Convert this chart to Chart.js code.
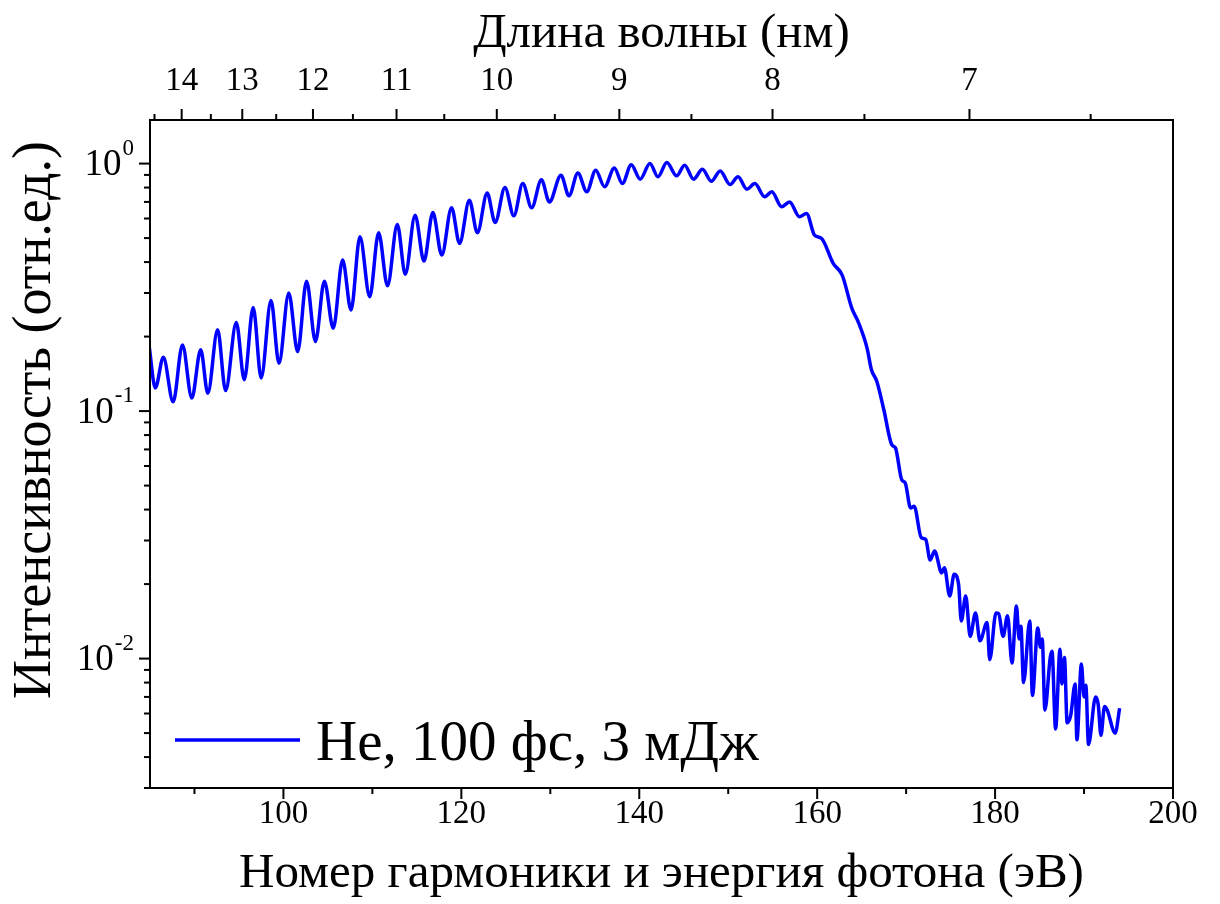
<!DOCTYPE html>
<html>
<head>
<meta charset="utf-8">
<script src="https://cdn.jsdelivr.net/npm/chart.js@4.4.0/dist/chart.umd.min.js"></script>
<style>
  html, body { margin: 0; padding: 0; background: #fff; }
  #wrap { width: 1220px; height: 904px; }
</style>
</head>
<body>
<div id="wrap"><canvas id="spectrum" width="1220" height="904"></canvas></div>
<script>
// ---------- Data ----------
const seriesLabel = 'He, 100 фс, 3 мДж';

// photon energy (eV) at peaks / troughs
const energy = [
  84.9, 85.6, 86.5, 87.6, 88.65, 89.7, 90.7, 91.5, 92.6, 93.5,
  94.7, 95.6, 96.6, 97.5, 98.6, 99.5, 100.6, 101.6, 102.6, 103.6,
  104.6, 105.6, 106.65, 107.6, 108.6, 109.7, 110.7, 111.7, 112.8, 113.7,
  114.8, 115.8, 116.8, 117.8, 118.9, 119.8, 120.9, 121.8, 122.9, 123.8,
  124.9, 125.9, 126.9, 127.9, 129.0, 129.9, 131.2, 132.1, 133.1, 134.1,
  135.1, 136.1, 137.2, 138.1, 139.1, 140.1, 141.2, 142.1, 143.1, 144.2,
  145.1, 146.1, 147.1, 148.1, 149.1, 150.2, 151.1, 152.1, 153.0, 154.1,
  154.9, 156.0, 156.9, 158.0, 158.8, 159.7, 160.5, 161.8, 162.8, 163.9,
  164.6, 165.6, 166.1, 166.7, 167.5, 168.4, 168.8, 169.5, 169.9, 170.5,
  170.9, 171.7, 172.2, 172.7, 173.2, 174.0, 174.3, 174.9, 175.4, 175.9,
  176.2, 176.7, 177.2, 177.8, 178.3, 179.1, 179.4, 180.1, 180.4, 180.9,
  181.4, 181.9, 182.4, 182.7, 182.9, 183.2, 183.9, 184.2, 184.8, 185.1,
  185.3, 185.6, 186.2, 186.4, 186.8, 187.3, 187.5, 187.8, 188.1, 188.5,
  189.0, 189.2, 189.7, 190.0, 190.2, 190.5, 191.3, 191.6, 191.9, 192.3,
  192.6, 193.5, 194.0
];

// intensity (arb. units)
const intensity = [
  0.183, 0.124, 0.165, 0.109, 0.185, 0.113, 0.177, 0.118, 0.213, 0.121,
  0.228, 0.134, 0.262, 0.136, 0.280, 0.156, 0.300, 0.174, 0.335, 0.191,
  0.335, 0.216, 0.408, 0.256, 0.506, 0.290, 0.525, 0.321, 0.568, 0.357,
  0.619, 0.404, 0.634, 0.427, 0.663, 0.476, 0.711, 0.525, 0.760, 0.578,
  0.800, 0.615, 0.830, 0.663, 0.860, 0.700, 0.897, 0.741, 0.917, 0.769,
  0.940, 0.806, 0.960, 0.830, 0.990, 0.865, 1.000, 0.884, 1.010, 0.892,
  0.985, 0.865, 0.948, 0.849, 0.934, 0.823, 0.884, 0.788, 0.830, 0.734,
  0.769, 0.669, 0.700, 0.610, 0.629, 0.514, 0.498, 0.395, 0.355, 0.260,
  0.230, 0.180, 0.147, 0.132, 0.101, 0.073, 0.071, 0.0528, 0.0512, 0.0406,
  0.0413, 0.0308, 0.0303, 0.0250, 0.0272, 0.0222, 0.0233, 0.0179, 0.0219, 0.0199,
  0.0142, 0.0179, 0.0123, 0.0153, 0.0118, 0.0140, 0.0099, 0.0153, 0.0152, 0.0123,
  0.0149, 0.0096, 0.0163, 0.0120, 0.0135, 0.0080, 0.0142, 0.0071, 0.0133, 0.0111,
  0.0120, 0.0062, 0.0101, 0.0107, 0.0052, 0.0109, 0.0079, 0.0101, 0.0055, 0.0059,
  0.0079, 0.0047, 0.0095, 0.0070, 0.0078, 0.0045, 0.0070, 0.0065, 0.0049, 0.0064,
  0.0062, 0.0050, 0.0063
];

// axes
const xMajorTicks = [100, 120, 140, 160, 180, 200];
const xMinorTicks = [90, 110, 130, 150, 170, 190];
const topMajorNm = [14, 13, 12, 11, 10, 9, 8, 7];
const topMinorNm = [14.5, 13.5, 12.5, 11.5, 10.5, 9.5, 8.5, 7.5, 6.5];
const yDecades = [1, 0.1, 0.01];
const yExponents = ['0', '-1', '-2'];

const xTitle = 'Номер гармоники и энергия фотона (эВ)';
const topTitle = 'Длина волны (нм)';
const yTitle = 'Интенсивность (отн.ед.)';

// ---------- Helpers ----------
const HC = 1239.84; // eV*nm
const FONT = '"Liberation Serif", "Times New Roman", serif';
const LINE_BLUE = '#0000ff';

function logTicks(min, max) {
  const out = [];
  for (let e = -3; e <= 0; e++) {
    for (let k = 1; k <= 9; k++) {
      const v = k * Math.pow(10, e);
      if (v >= min - 1e-12 && v <= max + 1e-12) out.push({ value: v, major: k === 1 });
    }
  }
  return out;
}

// ---------- Decoration plugin (frame, tick marks, y labels, legend) ----------
const axisDecor = {
  id: 'axisDecor',
  afterDraw(chart) {
    const { ctx, chartArea: a, scales } = chart;
    ctx.save();
    ctx.strokeStyle = '#000';
    ctx.lineWidth = 2;
    ctx.strokeRect(a.left, a.top, a.right - a.left, a.bottom - a.top);

    scales.x.ticks.forEach(t => {
      const p = scales.x.getPixelForValue(t.value);
      const len = t.major ? 11 : 6;
      ctx.beginPath(); ctx.moveTo(p, a.bottom); ctx.lineTo(p, a.bottom + len); ctx.stroke();
    });
    scales.x2.ticks.forEach(t => {
      const p = scales.x2.getPixelForValue(t.value);
      const len = t.major ? 11 : 6;
      ctx.beginPath(); ctx.moveTo(p, a.top); ctx.lineTo(p, a.top - len); ctx.stroke();
    });
    scales.y.ticks.forEach(t => {
      const p = scales.y.getPixelForValue(t.value);
      const len = t.major ? 11 : 6;
      ctx.beginPath(); ctx.moveTo(a.left, p); ctx.lineTo(a.left - len, p); ctx.stroke();
    });

    // y labels 10^n
    ctx.fillStyle = '#000';
    ctx.textBaseline = 'middle';
    yDecades.forEach((v, i) => {
      const p = scales.y.getPixelForValue(v);
      const right = a.left - 16;
      ctx.font = '23px ' + FONT;
      const ew = ctx.measureText(yExponents[i]).width;
      ctx.textAlign = 'left';
      ctx.fillText(yExponents[i], right - ew, p - 15);
      ctx.font = '37px ' + FONT;
      ctx.textAlign = 'right';
      ctx.fillText('10', right - ew - 1, p + 2);
    });

    // y title
    ctx.save();
    ctx.translate(36, 420);
    ctx.rotate(-Math.PI / 2);
    ctx.font = '54px ' + FONT;
    ctx.textAlign = 'center';
    ctx.fillText(yTitle, 0, 0);
    ctx.restore();

    // legend
    ctx.strokeStyle = LINE_BLUE;
    ctx.lineWidth = 3.5;
    ctx.beginPath(); ctx.moveTo(175, 740); ctx.lineTo(300, 740); ctx.stroke();
    ctx.font = '57px ' + FONT;
    ctx.textAlign = 'left';
    ctx.fillText(chart.data.datasets[0].label, 316, 745);
    ctx.restore();
  }
};

// ---------- Chart ----------
const points = energy.map((e, i) => ({ x: e, y: intensity[i] }));

new Chart(document.getElementById('spectrum').getContext('2d'), {
  type: 'line',
  data: {
    datasets: [{
      label: seriesLabel,
      data: points,
      borderColor: LINE_BLUE,
      borderWidth: 3.5,
      pointRadius: 0,
      fill: false,
      cubicInterpolationMode: 'monotone'
    }]
  },
  options: {
    responsive: false,
    animation: false,
    layout: { padding: { left: 0, right: 47, top: 0, bottom: 0 } },
    plugins: { legend: { display: false }, tooltip: { enabled: false } },
    scales: {
      x: {
        type: 'linear',
        position: 'bottom',
        min: 85, max: 200,
        afterBuildTicks: (s) => {
          s.ticks = xMajorTicks.map(v => ({ value: v, major: true }))
            .concat(xMinorTicks.map(v => ({ value: v, major: false })))
            .sort((p, q) => p.value - q.value);
        },
        afterFit: (s) => { s.height = 116; },
        grid: { display: true, drawOnChartArea: false, tickLength: 11, tickColor: 'transparent' },
        border: { display: false },
        ticks: {
          autoSkip: false, maxRotation: 0, padding: -4, color: '#000',
          font: { family: FONT, size: 33 },
          callback: (v, i, ticks) => (ticks[i].major ? String(v) : '')
        },
        title: {
          display: true, text: xTitle, color: '#000',
          font: { family: FONT, size: 49 }, padding: { top: 0, bottom: 0 }
        }
      },
      x2: {
        type: 'linear',
        position: 'top',
        min: 85, max: 200,
        afterBuildTicks: (s) => {
          s.ticks = topMajorNm.map(nm => ({ value: HC / nm, major: true, nm }))
            .concat(topMinorNm.map(nm => ({ value: HC / nm, major: false, nm })))
            .sort((p, q) => p.value - q.value);
        },
        afterFit: (s) => { s.height = 120; },
        grid: { display: true, drawOnChartArea: false, tickLength: 11, tickColor: 'transparent' },
        border: { display: false },
        ticks: {
          autoSkip: false, maxRotation: 0, padding: 8, color: '#000',
          font: { family: FONT, size: 33 },
          callback: (v, i, ticks) => (ticks[i].major ? String(ticks[i].nm) : '')
        },
        title: {
          display: true, text: topTitle, color: '#000',
          font: { family: FONT, size: 49 }, padding: { top: 5, bottom: 0 }
        }
      },
      y: {
        type: 'logarithmic',
        position: 'left',
        min: 0.003, max: 1.5,
        afterBuildTicks: (s) => { s.ticks = logTicks(0.003, 1.5); },
        afterFit: (s) => { s.width = 150; },
        grid: { display: true, drawOnChartArea: false, tickLength: 11, tickColor: 'transparent' },
        border: { display: false },
        ticks: { callback: () => '' }
      }
    }
  },
  plugins: [axisDecor]
});
</script>
</body>
</html>
